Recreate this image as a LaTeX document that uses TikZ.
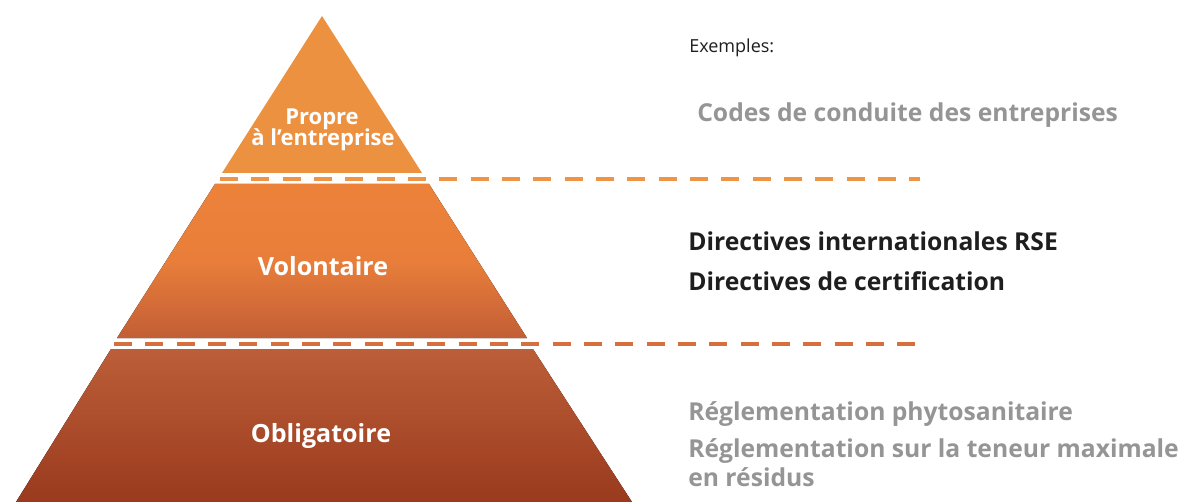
\documentclass[tikz,border=0pt]{standalone}
\usepackage{fontspec}
\setmainfont{Open Sans}
\definecolor{tierA}{HTML}{EC9140}
\definecolor{tierBtop}{HTML}{EC823A}
\definecolor{tierBmid}{HTML}{E97E3A}
\definecolor{tierBbot}{HTML}{C25E36}
\definecolor{tierCtop}{HTML}{BC5E38}
\definecolor{tierCbot}{HTML}{9A3A1E}
\definecolor{dashA}{HTML}{EE9447}
\definecolor{dashB}{HTML}{D66E3E}
\definecolor{txtgray}{HTML}{959595}
\definecolor{txtdark}{HTML}{1E1E1E}
\begin{document}
\begin{tikzpicture}[x=0.75pt,y=-0.75pt,
  tierlabel/.style={anchor=base,text=white,font=\bfseries\fontsize{18.8}{21}\selectfont,inner sep=0pt},
  example/.style={anchor=base west,font=\bfseries\fontsize{18.5}{21}\selectfont,inner sep=0pt},
  divider/.style={line width=2.3pt,dash pattern=on 13.5pt off 10pt}]
\useasboundingbox (0,0) rectangle (1184,502);
% pyramid slices (apex at 322,16)
\fill[tierA] (322,16) -- (422,173) -- (222,173) -- cycle;
\fill[top color=tierBtop,bottom color=tierBbot,middle color=tierBmid] (215,184) -- (429,184) -- (527,338) -- (117,338) -- cycle;
\fill[top color=tierCtop,bottom color=tierCbot] (111,349) -- (533,349) -- (632,502) -- (16,502) -- cycle;
% dividers
\coordinate (d1a) at (220,179);
\coordinate (d1b) at (920,179);
\coordinate (d2a) at (114,344);
\coordinate (d2b) at (920,344);
\draw[divider,dashA] (d1a) -- (d1b);
\draw[divider,dashB] (d2a) -- (d2b);
% tier labels
\node[tierlabel,font=\bfseries\fontsize{16.5}{18}\selectfont] (propre) at (322,125) {Propre};
\node[tierlabel,font=\bfseries\fontsize{16.5}{18}\selectfont] (entreprise) at (323,146) {à l’entreprise};
\node[tierlabel] (volontaire) at (323,276) {Volontaire};
\node[tierlabel] (obligatoire) at (321,442) {Obligatoire};
% examples
\node[anchor=base west,inner sep=0pt,font=\fontsize{13.5}{15}\selectfont,text=txtdark] (exemples) at (689,53) {Exemples:};
\node[example,text=txtgray] (codes) at (697,122) {Codes de conduite des entreprises};
\node[example,text=txtdark] (rse) at (688,250) {Directives internationales RSE};
\node[example,text=txtdark] (certif) at (688,290) {Directives de certification};
\node[example,text=txtgray] (phyto) at (688,420) {Réglementation phytosanitaire};
\node[example,text=txtgray] (teneur) at (688,457) {Réglementation sur la teneur maximale};
\node[example,text=txtgray] (residus) at (688,486) {en résidus};
\end{tikzpicture}
\end{document}
